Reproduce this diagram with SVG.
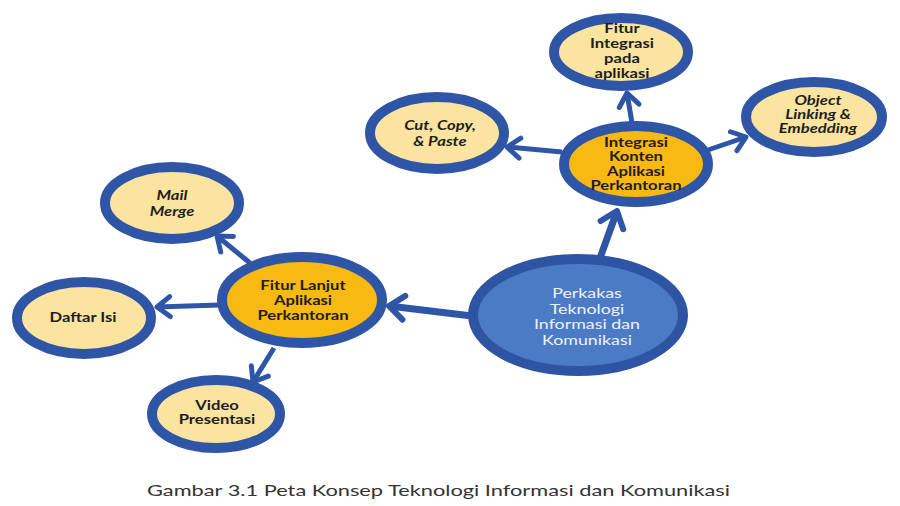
<svg xmlns="http://www.w3.org/2000/svg" width="900" height="506" viewBox="0 0 900 506">
<defs>
<style>
.light{fill:#FBE3A0;stroke:#2F56A6;stroke-width:10}
.orange{fill:#F7B912;stroke:#2F56A6;stroke-width:10}
.center{fill:#4C7BC6;stroke:#2E55A3;stroke-width:10}
.t{font-family:Lato,"Liberation Sans",sans-serif;font-size:13px;font-weight:700;fill:#1e1e1e;text-anchor:middle;dominant-baseline:central}
.i{font-style:italic}
.w{fill:#EEF2FA;font-weight:400;font-size:13.5px}
.conn line{stroke:#2F56A6;fill:none}
.thick{stroke-width:7}
.thin{stroke-width:5}
.cap{font-family:Lato,"Liberation Sans",sans-serif;font-size:15px;fill:#333}
</style>
<marker id="ah" markerUnits="userSpaceOnUse" markerWidth="30" markerHeight="30" refX="0" refY="0" viewBox="-20 -15 30 30" orient="auto" overflow="visible">
<path d="M-13,-10 L0,0 L-13,10" fill="none" stroke="#2F56A6" stroke-width="5" stroke-linecap="round" stroke-linejoin="round"/>
</marker>
<marker id="ahb" markerUnits="userSpaceOnUse" markerWidth="30" markerHeight="30" refX="0" refY="0" viewBox="-20 -15 30 30" orient="auto" overflow="visible">
<path d="M-15,-12 L0,0 L-15,12" fill="none" stroke="#2F56A6" stroke-width="6" stroke-linecap="round" stroke-linejoin="round"/>
</marker>
</defs>
<rect width="900" height="506" fill="#fff"/>
<g class="conn" id="connectors">
<line class="thick" x1="600" y1="258" x2="617" y2="211" marker-end="url(#ahb)"/>
<line class="thick" x1="472" y1="316" x2="389" y2="306" marker-end="url(#ahb)"/>
<line class="thin" x1="632" y1="123" x2="627" y2="93" marker-end="url(#ah)"/>
<line class="thin" x1="708" y1="150" x2="746" y2="137" marker-end="url(#ah)"/>
<line class="thin" x1="562" y1="152" x2="507" y2="147" marker-end="url(#ah)"/>
<line class="thin" x1="250" y1="263" x2="217" y2="236" marker-end="url(#ah)"/>
<line class="thin" x1="219" y1="305" x2="157" y2="307" marker-end="url(#ah)"/>
<line class="thin" x1="274" y1="348" x2="253" y2="382" marker-end="url(#ah)"/>
</g>
<g id="center">
<ellipse class="center" cx="578" cy="315" rx="105" ry="56"/>
<g transform="translate(587 0) scale(1.32 1)">
<text class="t w" x="0" y="292">Perkakas</text>
<text class="t w" x="0" y="308">Teknologi</text>
<text class="t w" x="0" y="323">Informasi dan</text>
<text class="t w" x="0" y="339">Komunikasi</text>
</g>
</g>
<g id="integrasi">
<ellipse class="orange" cx="636" cy="164" rx="72" ry="38"/>
<g transform="translate(636 0) scale(1.28 1)">
<text class="t" x="0" y="142">Integrasi</text>
<text class="t" x="0" y="156">Konten</text>
<text class="t" x="0" y="171">Aplikasi</text>
<text class="t" x="0" y="185">Perkantoran</text>
</g>
</g>
<g id="fitur-integrasi">
<ellipse class="light" cx="621" cy="52" rx="67" ry="34"/>
<g transform="translate(622 0) scale(1.28 1)">
<text class="t" x="0" y="28">Fitur</text>
<text class="t" x="0" y="43">Integrasi</text>
<text class="t" x="0" y="58">pada</text>
<text class="t" x="0" y="73">aplikasi</text>
</g>
</g>
<g id="ole">
<ellipse class="light" cx="814" cy="117" rx="68" ry="35"/>
<g transform="translate(818 0) scale(1.28 1)">
<text class="t i" x="0" y="100">Object</text>
<text class="t i" x="0" y="114">Linking &amp;</text>
<text class="t i" x="0" y="128">Embedding</text>
</g>
</g>
<g id="cut-copy">
<ellipse class="light" cx="437" cy="133" rx="67" ry="36"/>
<g transform="translate(440 0) scale(1.28 1)">
<text class="t i" x="0" y="125">Cut, Copy,</text>
<text class="t i" x="0" y="141">&amp; Paste</text>
</g>
</g>
<g id="fitur-lanjut">
<ellipse class="orange" cx="302" cy="300" rx="80" ry="43"/>
<g transform="translate(303 0) scale(1.28 1)">
<text class="t" x="0" y="285">Fitur Lanjut</text>
<text class="t" x="0" y="300">Aplikasi</text>
<text class="t" x="0" y="315">Perkantoran</text>
</g>
</g>
<g id="mail-merge">
<ellipse class="light" cx="172" cy="203" rx="67" ry="36"/>
<g transform="translate(172 0) scale(1.28 1)">
<text class="t i" x="0" y="195">Mail</text>
<text class="t i" x="0" y="211">Merge</text>
</g>
</g>
<g id="daftar-isi">
<ellipse class="light" cx="84" cy="318" rx="67" ry="36"/>
<g transform="translate(83 0) scale(1.28 1)">
<text class="t" x="0" y="317">Daftar Isi</text>
</g>
</g>
<g id="video">
<ellipse class="light" cx="216" cy="414" rx="64" ry="34"/>
<g transform="translate(217 0) scale(1.28 1)">
<text class="t" x="0" y="405">Video</text>
<text class="t" x="0" y="419">Presentasi</text>
</g>
</g>
<text class="cap" x="147" y="496" textLength="583" lengthAdjust="spacingAndGlyphs">Gambar 3.1 Peta Konsep Teknologi Informasi dan Komunikasi</text>
</svg>
